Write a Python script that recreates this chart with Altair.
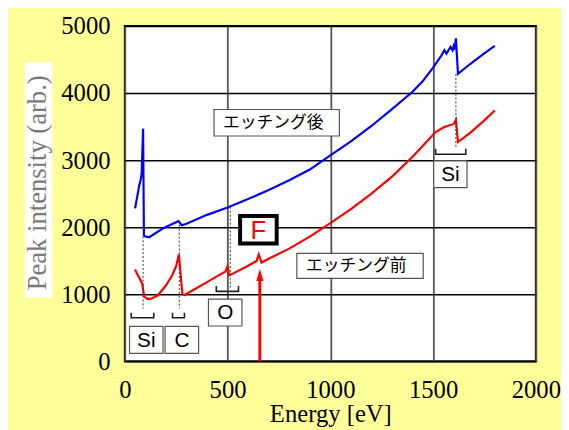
import altair as alt
import pandas as pd

# ---- data ----
energy_after = [50, 70, 78, 82, 89, 93, 97, 118, 190, 261, 277, 300, 397, 500, 600, 700, 800, 900,
                1000, 1100, 1200, 1300, 1400, 1450, 1500, 1540, 1555, 1565, 1585, 1595, 1600, 1605,
                1611, 1621, 1680, 1744, 1800]
intensity_after = [2280, 2620, 2720, 2800, 3470, 1880, 1865, 1850, 1990, 2090, 2030, 2050, 2180,
                   2295, 2420, 2555, 2700, 2860, 3070, 3280, 3510, 3760, 4020, 4180, 4380, 4560,
                   4640, 4590, 4690, 4640, 4700, 4650, 4816, 4287, 4434, 4581, 4704]

energy_before = [50, 60, 73, 85, 90, 95, 110, 125, 160, 200, 230, 250, 263, 280, 290, 320, 400,
                 450, 490, 500, 508, 521, 600, 641, 652, 665, 700, 800, 900, 1000, 1100, 1200,
                 1300, 1400, 1456, 1512, 1552, 1600, 1611, 1621, 1680, 1744, 1800]
intensity_before = [1370, 1300, 1230, 1150, 1050, 960, 930, 930, 980, 1130, 1280, 1420, 1594,
                    1010, 985, 1040, 1180, 1270, 1340, 1420, 1280, 1300, 1425, 1496, 1594, 1472,
                    1530, 1680, 1860, 2060, 2270, 2500, 2755, 3050, 3235, 3420, 3490, 3540, 3600,
                    3270, 3406, 3578, 3740]

series_names = ["エッチング後", "エッチング前"]
series_colors = ["#0000ff", "#ff0000"]

x_ticks = [0, 500, 1000, 1500, 2000]
y_ticks = [0, 1000, 2000, 3000, 4000, 5000]

# dotted guide lines (energy, top, bottom)
dot_x = [89, 265, 513, 1611]
dot_top = [1863, 2035, 2304, 4287]
dot_bottom = [786, 786, 1080, 3186]

# brackets under peaks
br_x1 = [31, 232, 445, 1512]
br_x2 = [141, 290, 553, 1659]
br_top = [725, 725, 1122, 3171]
br_bottom = [649, 649, 1042, 3088]

# element label boxes
elem_labels = ["Si", "C", "O", "Si"]
elem_x1 = [23, 196, 407, 1503]
elem_x2 = [186, 359, 570, 1665]
elem_top = [520, 520, 928, 2990]
elem_bottom = [118, 118, 526, 2589]

# series label boxes
ser_x1 = [434, 837]
ser_x2 = [1044, 1452]
ser_top = [3756, 1609]
ser_bottom = [3360, 1237]
ser_text_x = [722, 1126]

# F marker
f_label = ["F"]
f_x1 = [561]
f_x2 = [739]
f_top = [2167]
f_bottom = [1756]
arrow_x = [657]
arrow_base = [0]
arrow_shaft_top = [1230]
arrow_head = [1287]

SERIF = "Liberation Serif, Times New Roman, Times, serif"

# ---- tables ----
rows = []
for i, (e, v) in enumerate(zip(energy_after, intensity_after)):
    rows.append({"energy": e, "intensity": v, "series": series_names[0], "idx": i})
for i, (e, v) in enumerate(zip(energy_before, intensity_before)):
    rows.append({"energy": e, "intensity": v, "series": series_names[1], "idx": i})
lines_df = pd.DataFrame(rows)

dots_df = pd.DataFrame({"x": dot_x, "top": dot_top, "bottom": dot_bottom})

br_rows = []
for g, (a, b, t, u) in enumerate(zip(br_x1, br_x2, br_top, br_bottom)):
    br_rows += [
        {"x": a, "y": t, "g": g, "o": 0},
        {"x": a, "y": u, "g": g, "o": 1},
        {"x": b, "y": u, "g": g, "o": 2},
        {"x": b, "y": t, "g": g, "o": 3},
    ]
br_df = pd.DataFrame(br_rows)

elem_df = pd.DataFrame({
    "label": elem_labels, "x1": elem_x1, "x2": elem_x2, "top": elem_top, "bottom": elem_bottom,
    "cx": [(a + b) / 2 for a, b in zip(elem_x1, elem_x2)],
    "cy": [(a + b) / 2 for a, b in zip(elem_top, elem_bottom)],
})
ser_df = pd.DataFrame({
    "label": series_names, "x1": ser_x1, "x2": ser_x2, "top": ser_top, "bottom": ser_bottom,
    "cx": ser_text_x,
    "cy": [(a + b) / 2 for a, b in zip(ser_top, ser_bottom)],
})
f_df = pd.DataFrame({
    "label": f_label, "x1": f_x1, "x2": f_x2, "top": f_top, "bottom": f_bottom,
    "cx": [(a + b) / 2 for a, b in zip(f_x1, f_x2)],
    "cy": [(a + b) / 2 for a, b in zip(f_top, f_bottom)],
})
arrow_df = pd.DataFrame({"x": arrow_x, "base": arrow_base, "top": arrow_shaft_top, "head": arrow_head})
ytitle_df = pd.DataFrame({"t": ["Peak intensity (arb.)"]})

# ---- scales / axes ----
xs = alt.Scale(domain=[0, 2000], nice=False, zero=False)
ys = alt.Scale(domain=[0, 5000], nice=False, zero=False)

x_axis = alt.Axis(values=x_ticks, format="d", title="Energy [eV]", grid=True, gridColor="#555555",
                  gridWidth=1.8, labelPadding=37, labelBaseline="alphabetic",
                  titleY=61, titleBaseline="alphabetic", labelFlush=False, labelOverlap=False)
y_axis = alt.Axis(values=y_ticks, format="d", title=None, grid=True, gridColor="#000000",
                  gridWidth=1.5, labelPadding=15, labelFlush=False, labelOverlap=False)


def X(f):
    return alt.X(f + ":Q", scale=xs, axis=x_axis, title="Energy [eV]")


def Y(f):
    return alt.Y(f + ":Q", scale=ys, axis=y_axis, title=None)


lines = alt.Chart(lines_df).mark_line(strokeWidth=2.2).encode(
    x=X("energy"), y=Y("intensity"),
    color=alt.Color("series:N", scale=alt.Scale(domain=series_names, range=series_colors), legend=None),
    order="idx:Q",
)

dots = alt.Chart(dots_df).mark_rule(strokeDash=[2, 2], color="#333333", strokeWidth=1).encode(
    x=X("x"), y=Y("top"), y2="bottom:Q"
)

brackets = alt.Chart(br_df).mark_line(color="#222222", strokeWidth=1.6).encode(
    x=X("x"), y=Y("y"), detail="g:N", order="o:Q"
)

elem_boxes = alt.Chart(elem_df).mark_rect(fill="white", stroke="#555555", strokeWidth=1.2).encode(
    x=X("x1"), x2="x2:Q", y=Y("top"), y2="bottom:Q"
)
elem_text = alt.Chart(elem_df).mark_text(font="Liberation Sans", fontSize=21, color="black",
                                         baseline="middle", align="center", dy=1).encode(
    x=X("cx"), y=Y("cy"), text="label:N"
)

ser_boxes = alt.Chart(ser_df).mark_rect(fill="white", stroke="#555555", strokeWidth=1.2).encode(
    x=X("x1"), x2="x2:Q", y=Y("top"), y2="bottom:Q"
)
ser_text = alt.Chart(ser_df).mark_text(font="Noto Sans CJK JP", fontSize=17, color="black",
                                       baseline="middle", align="center").encode(
    x=X("cx"), y=Y("cy"), text="label:N"
)

f_box = alt.Chart(f_df).mark_rect(fill="white", stroke="black", strokeWidth=4).encode(
    x=X("x1"), x2="x2:Q", y=Y("top"), y2="bottom:Q"
)
f_text = alt.Chart(f_df).mark_text(font="Liberation Sans", fontSize=26, color="#ff0000",
                                   baseline="middle", align="center", dy=1).encode(
    x=X("cx"), y=Y("cy"), text="label:N"
)

arrow_shaft = alt.Chart(arrow_df).mark_rule(color="#ff0000", strokeWidth=3).encode(
    x=X("x"), y=Y("base"), y2="top:Q"
)
arrow_tip = alt.Chart(arrow_df).mark_point(
    shape="M-0.6,1L0,-1L0.6,1Z", filled=True, color="#ff0000", size=144, opacity=1
).encode(x=X("x"), y=Y("head"))

ytitle_bg = alt.Chart(ytitle_df).mark_rect(fill="white").encode(
    x=alt.value(-101.5), x2=alt.value(-73.5), y=alt.value(36.7), y2=alt.value(275.7)
)
ytitle = alt.Chart(ytitle_df).mark_text(
    font=SERIF, fontSize=27, color="#7a7a7a", angle=270,
    align="center", baseline="middle"
).encode(x=alt.value(-87.5), y=alt.value(159), text="t:N")

chart = alt.layer(
    lines, dots, brackets, elem_boxes, elem_text, ser_boxes, ser_text,
    f_box, f_text, arrow_shaft, arrow_tip, ytitle_bg, ytitle
).properties(
    width=417, height=340,
    autosize=alt.AutoSizeParams(type="none"),
    padding={"left": 118.5, "top": 15.3, "right": 25.5, "bottom": 66.7},
    background="#ffff99",
).configure_view(
    stroke="black", strokeWidth=2, fill="white"
).configure_axis(
    domain=False, ticks=False, tickSize=0,
    labelFont=SERIF, labelFontSize=25, labelColor="black",
    titleFont=SERIF, titleFontSize=25, titleColor="black", titleFontWeight="normal",
)

chart.save("out.html", embed_options={"renderer": "svg", "actions": False})
